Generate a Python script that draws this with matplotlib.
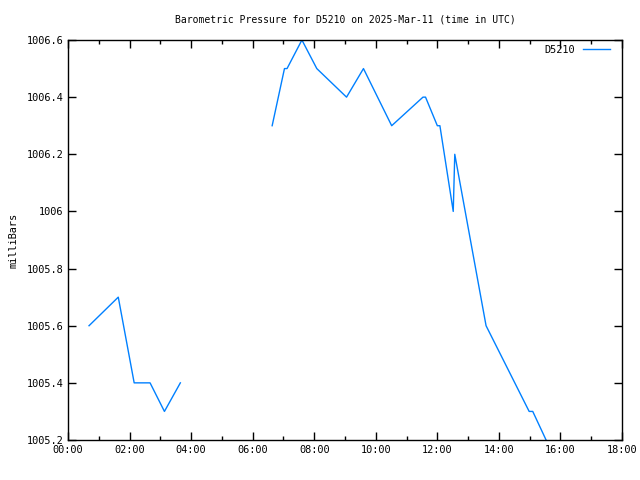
import matplotlib
matplotlib.use("Agg")
import matplotlib.pyplot as plt
import numpy as np

times = ["00:41", "01:38", "02:09", "02:40", "03:08", "03:39",
         None,
         "06:38", "07:02", "07:07", "07:36", "08:05", "09:03", "09:36",
         "10:31", "11:32", "11:37", "12:00", "12:05", "12:31", "12:34",
         "13:35", "14:59", "15:06", "15:32"]
pressure = [1005.6, 1005.7, 1005.4, 1005.4, 1005.3, 1005.4,
            np.nan,
            1006.3, 1006.5, 1006.5, 1006.6, 1006.5, 1006.4, 1006.5,
            1006.3, 1006.4, 1006.4, 1006.3, 1006.3, 1006.0, 1006.2,
            1005.6, 1005.3, 1005.3, 1005.2]

def to_h(s):
    if s is None:
        return np.nan
    h, m = s.split(":")
    return int(h) + int(m) / 60.0

x = np.array([to_h(t) for t in times])
y = np.array(pressure)

xticks = list(range(0, 19, 2))
xlabels = ["%02d:00" % h for h in xticks]
yticks = [1005.2, 1005.4, 1005.6, 1005.8, 1006.0, 1006.2, 1006.4, 1006.6]
ylabels = ["1005.2", "1005.4", "1005.6", "1005.8", "1006", "1006.2", "1006.4", "1006.6"]

plt.rcParams['font.family'] = ['DejaVu Sans Mono']
fig = plt.figure(figsize=(6.4, 4.8), dpi=100)
ax = fig.add_axes([68/640, 40/480, (622-68)/640, 400/480])
ax.plot(x, y, color="#0080ff", lw=1.0, label="D5210")
ax.set_xlim(0, 18)
ax.set_ylim(1005.2, 1006.6)
ax.set_xticks(xticks)
ax.set_xticklabels(xlabels, fontsize=7.4)
ax.set_xticks(range(1, 18, 2), minor=True)
ax.set_yticks(yticks)
ax.set_yticklabels(ylabels, fontsize=7.4)
ax.tick_params(which="major", direction="in", length=6, top=True, right=True, width=1)
ax.tick_params(which="minor", direction="in", length=3, top=True, right=True, width=1)
fig.text(345/640, 1 - 20/480, "Barometric Pressure for D5210 on 2025-Mar-11 (time in UTC)",
         fontsize=7, ha="center", va="center")
ax.set_ylabel("milliBars", fontsize=7.4, labelpad=6)
for s in ax.spines.values():
    s.set_linewidth(1)
ax.legend(loc="center right", bbox_to_anchor=(610/640, 1 - 50/480),
          bbox_transform=fig.transFigure, frameon=False, fontsize=7.4,
          markerfirst=False, handlelength=2.6, handletextpad=0.8,
          borderpad=0, borderaxespad=0)
fig.savefig("out.png", dpi=100)
